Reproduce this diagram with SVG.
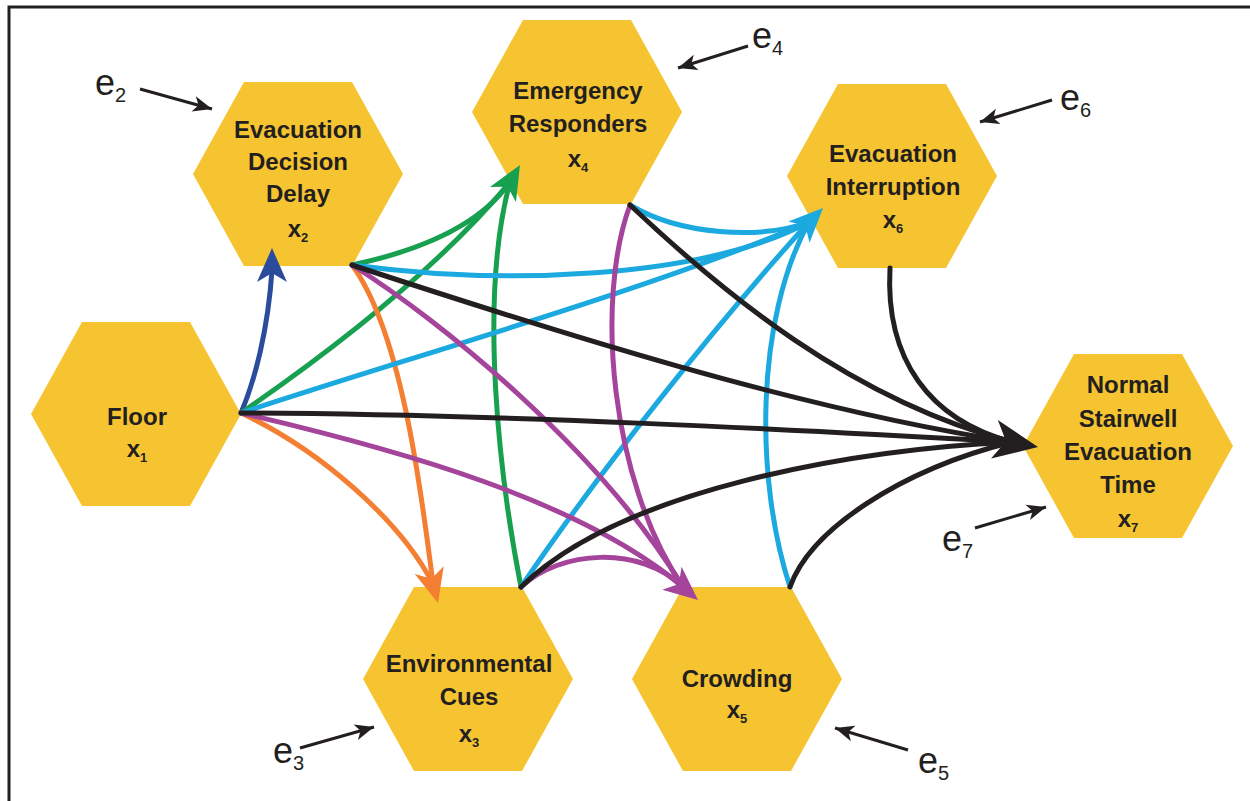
<svg xmlns="http://www.w3.org/2000/svg" xmlns:xlink="http://www.w3.org/1999/xlink" width="1250" height="801" viewBox="0 0 1250 801">
<style>
.hex{fill:#F6C431}
.lbl{font-family:"Liberation Sans",Arial,sans-serif;font-weight:bold;font-size:24px;fill:#231F20;text-anchor:middle}
.sub{font-size:13px}
.err{font-family:"Liberation Sans",Arial,sans-serif;font-size:36px;fill:#231F20}
.errs{font-size:20px}
.c{fill:none;stroke-width:5;stroke-linecap:round}
.bl{stroke:#2B4B9B}.gr{stroke:#17A050}.or{stroke:#F47E32}.pu{stroke:#A4449A}.cy{stroke:#1BA9DF}.bk{stroke:#231F20}
.eline{stroke:#231F20;stroke-width:3;fill:none}
</style>
<defs>
<path id="ah" d="M0,0 L-34,-15 L-25,0 L-34,15 Z"/>
<marker id="em" markerUnits="userSpaceOnUse" markerWidth="24" markerHeight="18" viewBox="-20 -9 22 18" refX="0" refY="0" orient="auto">
<path d="M0,0 L-19,-8 L-14,0 L-19,8 Z" fill="#231F20"/>
</marker>
</defs>
<rect width="1250" height="801" fill="#ffffff"/>
<path d="M9,801 L9,7 L1250,7" fill="none" stroke="#222222" stroke-width="3"/>

<g id="x1">
<polygon class="hex" points="31,414 82,322 190,322 241,414 190,506 82,506"/>
<text class="lbl" x="137" y="425">Floor</text>
<text class="lbl" x="137" y="457">x<tspan class="sub" dy="5">1</tspan></text>
</g>
<g id="x2">
<polygon class="hex" points="193,174 244,82 352,82 403,174 352,266 244,266"/>
<text class="lbl" x="298" y="138">Evacuation</text>
<text class="lbl" x="298" y="170">Decision</text>
<text class="lbl" x="298" y="202">Delay</text>
<text class="lbl" x="298" y="237">x<tspan class="sub" dy="5">2</tspan></text>
</g>
<g id="x4">
<polygon class="hex" points="472,112 523,20 631,20 682,112 631,204 523,204"/>
<text class="lbl" x="578" y="99">Emergency</text>
<text class="lbl" x="578" y="132">Responders</text>
<text class="lbl" x="578" y="167">x<tspan class="sub" dy="5">4</tspan></text>
</g>
<g id="x6">
<polygon class="hex" points="787,176 838,84 946,84 997,176 946,268 838,268"/>
<text class="lbl" x="893" y="162">Evacuation</text>
<text class="lbl" x="893" y="195">Interruption</text>
<text class="lbl" x="893" y="228">x<tspan class="sub" dy="5">6</tspan></text>
</g>
<g id="x7">
<polygon class="hex" points="1023,446 1074,354 1182,354 1233,446 1182,538 1074,538"/>
<text class="lbl" x="1128" y="393">Normal</text>
<text class="lbl" x="1128" y="427">Stairwell</text>
<text class="lbl" x="1128" y="460">Evacuation</text>
<text class="lbl" x="1128" y="493">Time</text>
<text class="lbl" x="1128" y="527">x<tspan class="sub" dy="5">7</tspan></text>
</g>
<g id="x3">
<polygon class="hex" points="363,679 414,587 522,587 573,679 522,771 414,771"/>
<text class="lbl" x="469" y="672">Environmental</text>
<text class="lbl" x="469" y="705">Cues</text>
<text class="lbl" x="469" y="742">x<tspan class="sub" dy="5">3</tspan></text>
</g>
<g id="x5">
<polygon class="hex" points="632,679 683,587 791,587 842,679 791,771 683,771"/>
<text class="lbl" x="737" y="687">Crowding</text>
<text class="lbl" x="737" y="718">x<tspan class="sub" dy="5">5</tspan></text>
</g>

<g id="errors">
<text class="err" x="95" y="95">e<tspan class="errs" dy="7">2</tspan></text>
<line class="eline" x1="140" y1="89" x2="212" y2="109" marker-end="url(#em)"/>
<text class="err" x="752" y="48">e<tspan class="errs" dy="7">4</tspan></text>
<line class="eline" x1="748" y1="46" x2="678" y2="68" marker-end="url(#em)"/>
<text class="err" x="1060" y="110">e<tspan class="errs" dy="7">6</tspan></text>
<line class="eline" x1="1052" y1="100" x2="980" y2="122" marker-end="url(#em)"/>
<text class="err" x="942" y="551">e<tspan class="errs" dy="7">7</tspan></text>
<line class="eline" x1="975" y1="528" x2="1046" y2="507" marker-end="url(#em)"/>
<text class="err" x="273" y="763">e<tspan class="errs" dy="7">3</tspan></text>
<line class="eline" x1="300" y1="748" x2="374" y2="727" marker-end="url(#em)"/>
<text class="err" x="918" y="773">e<tspan class="errs" dy="7">5</tspan></text>
<line class="eline" x1="908" y1="750" x2="835" y2="728" marker-end="url(#em)"/>
</g>

<g id="connectors">
<path class="c bl" d="M241,413 C255,380 268,330 272,270"/>
<use xlink:href="#ah" href="#ah" fill="#2B4B9B" transform="translate(272,248) rotate(-90)"/>

<path class="c gr" d="M241,413 Q420,290 510,182"/>
<path class="c gr" d="M352,265 Q470,240 510,182"/>
<path class="c gr" d="M521,587 C500,480 478,300 510,182"/>
<use xlink:href="#ah" href="#ah" fill="#17A050" transform="translate(520,165) rotate(-60)"/>

<path class="c or" d="M352,265 C400,330 420,480 433,584"/>
<path class="c or" d="M241,413 C320,450 400,520 433,584"/>
<use xlink:href="#ah" href="#ah" fill="#F47E32" transform="translate(438,603) rotate(75)"/>

<path class="c cy" d="M352,265 C500,285 700,280 809,222"/>
<path class="c cy" d="M241,413 C400,360 650,290 809,222"/>
<path class="c cy" d="M630,205 C680,235 760,240 809,222"/>
<path class="c cy" d="M521,587 C600,470 720,320 809,222"/>
<path class="c cy" d="M790,587 C755,480 755,320 809,222"/>
<use xlink:href="#ah" href="#ah" fill="#1BA9DF" transform="translate(823,208) rotate(-45)"/>

<path class="c pu" d="M352,265 C440,320 600,450 683,587"/>
<path class="c pu" d="M241,413 C400,450 580,500 683,587"/>
<path class="c pu" d="M630,205 C595,300 610,480 683,587"/>
<path class="c pu" d="M521,587 C560,550 640,545 683,587"/>
<use xlink:href="#ah" href="#ah" fill="#A4449A" transform="translate(698,600) rotate(40)"/>

<path class="c bk" d="M241,413 C500,414 800,430 1012,442"/>
<path class="c bk" d="M352,265 C550,330 800,410 1012,442"/>
<path class="c bk" d="M630,205 C720,290 850,400 1012,442"/>
<path class="c bk" d="M890,268 C885,360 930,420 1012,442"/>
<path class="c bk" d="M521,587 C620,490 850,450 1012,442"/>
<path class="c bk" d="M790,587 C810,530 900,470 1012,442"/>
<use xlink:href="#ah" href="#ah" fill="#231F20" transform="translate(1038,447) rotate(10) scale(1.3)"/>
</g>
</svg>
